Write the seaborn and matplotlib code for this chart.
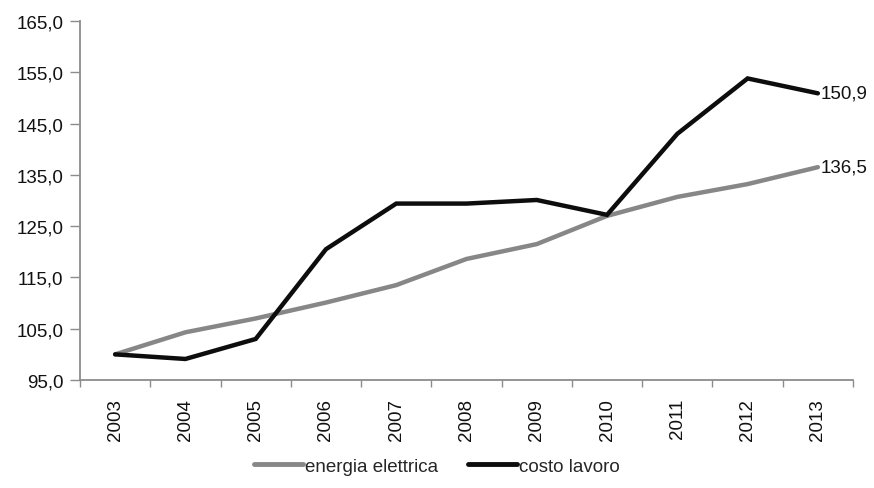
import matplotlib
matplotlib.use("Agg")
import matplotlib.pyplot as plt
from matplotlib.lines import Line2D
from matplotlib.ticker import FixedLocator, FuncFormatter
import numpy as np
import pandas as pd
import seaborn as sns

years = ["2003", "2004", "2005", "2006", "2007", "2008", "2009", "2010", "2011", "2012", "2013"]
energia_elettrica = [100.0, 104.3, 107.0, 110.1, 113.5, 118.6, 121.5, 127.0, 130.7, 133.2, 136.5]
costo_lavoro = [100.0, 99.1, 103.0, 120.5, 129.4, 129.4, 130.1, 127.2, 143.0, 153.8, 150.9]
series_names = ["energia elettrica", "costo lavoro"]
series_colors = ["#878787", "#0d0d0d"]

sns.set_theme(style="white")
plt.rcParams["font.family"] = ["Liberation Sans Narrow", "Liberation Sans", "DejaVu Sans"]

FS = 13.5
pos = np.arange(len(years))
df = pd.DataFrame({
    "pos": np.concatenate([pos, pos]),
    "valore": energia_elettrica + costo_lavoro,
    "serie": [series_names[0]] * len(years) + [series_names[1]] * len(years),
})

fig = plt.figure(figsize=(8.74, 4.89), dpi=100)
ax = fig.add_axes([80 / 874, 1 - 381 / 489, (853 - 80) / 874, (381 - 22) / 489])

sns.lineplot(data=df, x="pos", y="valore", hue="serie", hue_order=series_names,
             palette=series_colors, linewidth=3.2, legend=False, ax=ax,
             solid_joinstyle="miter")

ax.set_xlim(-0.5, len(years) - 0.5)
ax.set_ylim(95, 165)
ax.set_xlabel("")
ax.set_ylabel("")

def it_fmt(v, _):
    return f"{v:.1f}".replace(".", ",")

ax.yaxis.set_major_locator(FixedLocator(np.arange(95, 166, 10)))
ax.yaxis.set_major_formatter(FuncFormatter(it_fmt))
ax.tick_params(axis="y", which="major", direction="out", length=7, width=1,
               color="#8c8c8c", labelsize=FS, pad=5, labelcolor="#111111")

ax.xaxis.set_major_locator(FixedLocator(np.arange(-0.5, len(years), 1.0)))
ax.xaxis.set_major_formatter(FuncFormatter(lambda v, _: ""))
ax.xaxis.set_minor_locator(FixedLocator(pos))
ax.set_xticklabels(years, minor=True, rotation=90)
ax.tick_params(axis="x", which="major", direction="out", length=5, width=1, color="#8c8c8c")
ax.tick_params(axis="x", which="minor", length=0, labelsize=FS, pad=13, labelcolor="#111111")
ax.tick_params(left=True, bottom=True)

for side in ["top", "right"]:
    ax.spines[side].set_visible(False)
for side in ["left", "bottom"]:
    ax.spines[side].set_color("#8c8c8c")
    ax.spines[side].set_linewidth(1.3)

# value labels at the end of each series
ax.annotate(it_fmt(costo_lavoro[-1], None), (pos[-1], costo_lavoro[-1]),
            xytext=(2, 0), textcoords="offset points", va="center", ha="left",
            fontsize=FS, color="#111111", annotation_clip=False)
ax.annotate(it_fmt(energia_elettrica[-1], None), (pos[-1], energia_elettrica[-1]),
            xytext=(2, 0), textcoords="offset points", va="center", ha="left",
            fontsize=FS, color="#111111", annotation_clip=False)

handles = [Line2D([], [], color=c, linewidth=3.5) for c in series_colors]
fig.legend(handles, series_names, loc="center", bbox_to_anchor=(0.5, 1 - 467 / 489),
           ncol=2, frameon=False, fontsize=FS, handlelength=2.6, handletextpad=0.1,
           columnspacing=1.6)

fig.savefig("out.png", dpi=100)
